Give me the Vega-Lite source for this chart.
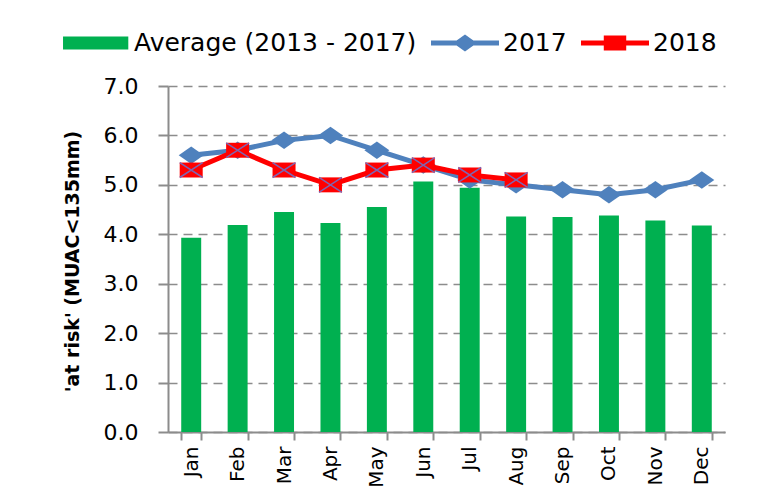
{
  "$schema": "https://vega.github.io/schema/vega-lite/v6.json",
  "width": 557,
  "height": 346,
  "autosize": {"type": "none"},
  "padding": {"left": 168, "top": 86, "right": 41, "bottom": 66},
  "background": "white",
  "config": {
    "font": "DejaVu Sans",
    "view": {"stroke": null}
  },
  "data": {
    "values": [
      {"month": "Jan", "series": "Average (2013 - 2017)", "value": 3.93},
      {"month": "Feb", "series": "Average (2013 - 2017)", "value": 4.19},
      {"month": "Mar", "series": "Average (2013 - 2017)", "value": 4.45},
      {"month": "Apr", "series": "Average (2013 - 2017)", "value": 4.23},
      {"month": "May", "series": "Average (2013 - 2017)", "value": 4.55},
      {"month": "Jun", "series": "Average (2013 - 2017)", "value": 5.07},
      {"month": "Jul", "series": "Average (2013 - 2017)", "value": 4.94},
      {"month": "Aug", "series": "Average (2013 - 2017)", "value": 4.36},
      {"month": "Sep", "series": "Average (2013 - 2017)", "value": 4.35},
      {"month": "Oct", "series": "Average (2013 - 2017)", "value": 4.38},
      {"month": "Nov", "series": "Average (2013 - 2017)", "value": 4.28},
      {"month": "Dec", "series": "Average (2013 - 2017)", "value": 4.18},
      {"month": "Jan", "series": "2017", "value": 5.6},
      {"month": "Feb", "series": "2017", "value": 5.7},
      {"month": "Mar", "series": "2017", "value": 5.9},
      {"month": "Apr", "series": "2017", "value": 6.0},
      {"month": "May", "series": "2017", "value": 5.7},
      {"month": "Jun", "series": "2017", "value": 5.4},
      {"month": "Jul", "series": "2017", "value": 5.1},
      {"month": "Aug", "series": "2017", "value": 5.0},
      {"month": "Sep", "series": "2017", "value": 4.9},
      {"month": "Oct", "series": "2017", "value": 4.8},
      {"month": "Nov", "series": "2017", "value": 4.9},
      {"month": "Dec", "series": "2017", "value": 5.1},
      {"month": "Jan", "series": "2018", "value": 5.3},
      {"month": "Feb", "series": "2018", "value": 5.7},
      {"month": "Mar", "series": "2018", "value": 5.3},
      {"month": "Apr", "series": "2018", "value": 5.0},
      {"month": "May", "series": "2018", "value": 5.3},
      {"month": "Jun", "series": "2018", "value": 5.4},
      {"month": "Jul", "series": "2018", "value": 5.2},
      {"month": "Aug", "series": "2018", "value": 5.1}
    ]
  },
  "encoding": {
    "x": {
      "field": "month",
      "type": "nominal",
      "sort": ["Jan","Feb","Mar","Apr","May","Jun","Jul","Aug","Sep","Oct","Nov","Dec"],
      "scale": {"paddingInner": 0.57, "paddingOuter": 0.285},
      "axis": {
        "title": null,
        "labelAngle": 270,
        "labelFontSize": 20,
        "labelColor": "#000000",
        "labelPadding": 6,
        "tickBand": "extent",
        "tickSize": 8,
        "tickColor": "#8c8c8c",
        "tickWidth": 2,
        "domainColor": "#8c8c8c",
        "domainWidth": 2,
        "grid": false
      }
    },
    "y": {
      "field": "value",
      "type": "quantitative",
      "scale": {"domain": [0, 7], "nice": false},
      "axis": {
        "title": "'at risk' (MUAC<135mm)",
        "titleFontSize": 19,
        "titleFontWeight": "bold",
        "titleColor": "#000000",
        "titleX": -96,
        "titleY": 175,
        "titleAngle": 270,
        "titleAlign": "center",
        "titleBaseline": "middle",
        "values": [0, 1, 2, 3, 4, 5, 6, 7],
        "format": ".1f",
        "labelFontSize": 22,
        "labelColor": "#000000",
        "labelPadding": 20,
        "tickSize": 10,
        "tickColor": "#8c8c8c",
        "tickWidth": 2,
        "domainColor": "#8c8c8c",
        "domainWidth": 2,
        "grid": true,
        "gridColor": "#8c8c8c",
        "gridDash": [9, 6],
        "gridWidth": 1.5
      }
    }
  },
  "layer": [
    {
      "transform": [{"filter": "datum.series === 'Average (2013 - 2017)'"}],
      "mark": {"type": "bar", "color": "#00B050"}
    },
    {
      "transform": [{"filter": "datum.series === '2017'"}],
      "mark": {"type": "line", "color": "#4F81BD", "strokeWidth": 5}
    },
    {
      "transform": [{"filter": "datum.series === '2017'"}],
      "mark": {"type": "point", "shape": "M-1,0L0,-0.7L1,0L0,0.7Z", "size": 625, "filled": true, "color": "#4F81BD", "opacity": 1}
    },
    {
      "transform": [{"filter": "datum.series === '2018'"}],
      "mark": {"type": "line", "color": "#FF0000", "strokeWidth": 5}
    },
    {
      "transform": [{"filter": "datum.series === '2018'"}],
      "mark": {"type": "point", "shape": "M-1,-0.65H1V0.65H-1Z", "size": 529, "filled": true, "color": "#FF0000", "opacity": 1}
    },
    {
      "transform": [{"filter": "datum.series === '2018'"}],
      "mark": {"type": "point", "shape": "M-1,-0.65L1,0.65M-1,0.65L1,-0.65", "size": 529, "filled": false, "color": "#7F64B0", "strokeWidth": 1.5, "opacity": 1}
    },
    {
      "transform": [{"filter": "datum.month === 'Jan'"}],
      "mark": {"type": "point", "filled": true, "opacity": 1},
      "encoding": {
        "y": {"field": "legendOnly", "type": "quantitative"},
        "color": {
          "field": "series",
          "type": "nominal",
          "scale": {"domain": ["Average (2013 - 2017)", "2017", "2018"], "range": ["#00B050", "#4F81BD", "#FF0000"]},
          "legend": {
            "title": null,
            "orient": "none",
            "direction": "horizontal",
            "legendX": -106,
            "legendY": -77,
            "symbolSize": 4624,
            "symbolOpacity": 1,
            "symbolStrokeWidth": 0,
            "labelFontSize": 25,
            "labelColor": "#000000",
            "labelOffset": 4,
            "columnPadding": 14,
            "labelLimit": 400
          }
        },
        "shape": {
          "field": "series",
          "type": "nominal",
          "scale": {
            "domain": ["Average (2013 - 2017)", "2017", "2018"],
            "range": [
              "M-0.97,-0.19H0.95V0.19H-0.97Z",
              "M-1,-0.075H1V0.075H-1Z M-0.35,0L0,-0.25L0.35,0L0,0.25Z",
              "M-1,-0.075H1V0.075H-1Z M-0.33,-0.22H0.33V0.22H-0.33Z"
            ]
          }
        }
      }
    }
  ]
}
